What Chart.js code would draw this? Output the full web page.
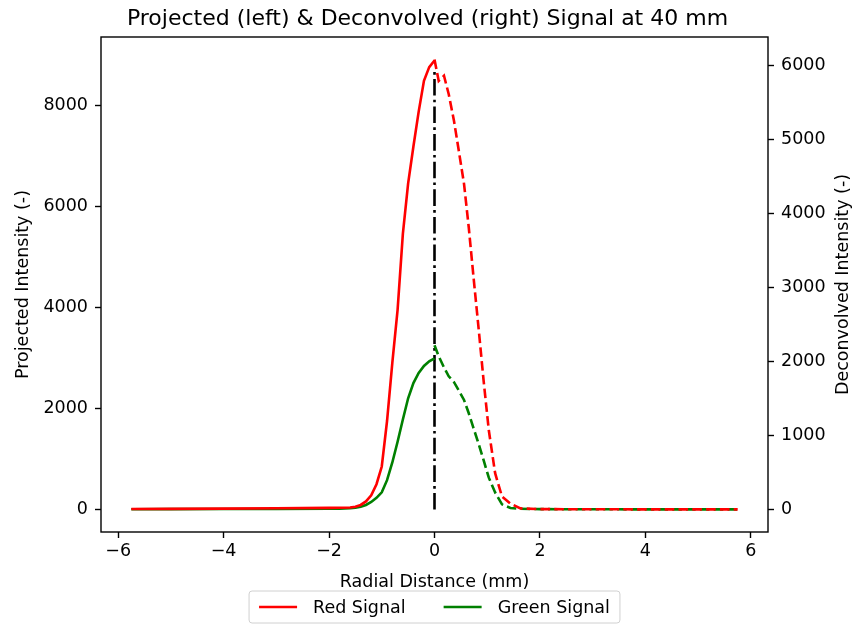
<!DOCTYPE html>
<html>
<head>
<meta charset="utf-8">
<title>Projected &amp; Deconvolved Signal</title>
<script src="https://cdn.jsdelivr.net/npm/chart.js@4.4.0/dist/chart.umd.min.js"></script>
<style>
  html, body { margin: 0; padding: 0; background: #fff; }
  #wrap { width: 855px; height: 625px; }
</style>
</head>
<body>
<div id="wrap"><canvas id="signalChart" width="855" height="625"></canvas></div>
<script>
// Radial positions (mm) for the projected half (left of centre)
const leftX = [-5.75, -5.0, -4.0, -3.0, -2.0, -1.8, -1.6, -1.5, -1.4, -1.3, -1.2, -1.1,
  -1.0, -0.9, -0.8, -0.7, -0.6, -0.5, -0.4, -0.3, -0.2, -0.1, 0.0];
// Projected intensity, left axis
const redProjected = [10, 12, 18, 25, 32, 35, 40, 55, 90, 160, 280, 500,
  850, 1750, 2900, 3950, 5450, 6450, 7180, 7870, 8480, 8750, 8880];
const greenProjected = [5, 7, 9, 11, 15, 18, 24, 35, 55, 90, 150, 230,
  340, 580, 930, 1340, 1780, 2200, 2500, 2700, 2840, 2930, 2990];

// Radial positions (mm) for the deconvolved half (right of centre)
const rightX = [0.0, 0.08, 0.18, 0.27, 0.37, 0.46, 0.56, 0.65, 0.74, 0.84, 0.93,
  1.03, 1.15, 1.28, 1.44, 1.63, 2.0, 3.0, 4.0, 5.0, 5.75];
// Deconvolved intensity, right axis
const redDeconvolved = [6080, 5790, 5860, 5610, 5250, 4850, 4400, 3810, 3140, 2420, 1750,
  1070, 490, 175, 80, 15, 5, 3, 2, 2, 2];
const greenDeconvolved = [2220, 2070, 1920, 1800, 1720, 1610, 1480, 1300, 1100, 880, 670,
  430, 230, 70, 20, 10, 5, 3, 2, 2, 2];

// Centre line (x = 0)
const centerX = [0, 0];
const centerY = [0, 8700];

// Tick labels
const xTicks = [-6, -4, -2, 0, 2, 4, 6];
const leftTicks = [0, 2000, 4000, 6000, 8000];
const rightTicks = [0, 1000, 2000, 3000, 4000, 5000, 6000];

const legendLabels = ["Red Signal", "Green Signal"];
const legendColors = ["#ff0000", "#008000"];
const rightAxisTitle = "Deconvolved Intensity (-)";

const FONT = "'DejaVu Sans', 'Liberation Sans', sans-serif";
const LW = 2.6;

function toPoints(xs, ys) {
  return xs.map((x, i) => ({ x: x, y: ys[i] }));
}

function fmt(v) {
  return String(v).replace("-", "\u2212");
}

function fixedTicks(values) {
  return (scale) => {
    scale.ticks = values.map((v) => ({ value: v }));
  };
}

// frame, right axis title (reads upward like matplotlib) and legend
const frameAndLegend = {
  id: "frameAndLegend",
  afterDraw(chart) {
    const ctx = chart.ctx;
    const a = chart.chartArea;
    ctx.save();
    ctx.strokeStyle = "#000";
    ctx.lineWidth = 1.4;
    ctx.strokeRect(a.left, a.top, a.right - a.left, a.bottom - a.top);

    ctx.font = "17.5px " + FONT;
    ctx.fillStyle = "#000";
    ctx.save();
    ctx.translate(843, (a.top + a.bottom) / 2);
    ctx.rotate(-Math.PI / 2);
    ctx.textAlign = "center";
    ctx.textBaseline = "middle";
    ctx.fillText(rightAxisTitle, 0, 0);
    ctx.restore();

    const handle = 38, textPad = 16, colGap = 38, pad = 10;
    const widths = legendLabels.map((t) => ctx.measureText(t).width);
    let total = pad * 2;
    widths.forEach((w, i) => {
      total += handle + textPad + w + (i > 0 ? colGap : 0);
    });
    const boxLeft = 434.5 - total / 2;
    const boxTop = 591, boxH = 32;
    ctx.beginPath();
    ctx.roundRect(boxLeft, boxTop, total, boxH, 3);
    ctx.fillStyle = "rgba(255,255,255,0.8)";
    ctx.fill();
    ctx.strokeStyle = "#d0d0d0";
    ctx.lineWidth = 1;
    ctx.stroke();

    const cy = boxTop + boxH / 2;
    let x = boxLeft + pad;
    ctx.textBaseline = "middle";
    ctx.textAlign = "left";
    legendLabels.forEach((label, i) => {
      if (i > 0) x += colGap;
      ctx.beginPath();
      ctx.moveTo(x, cy);
      ctx.lineTo(x + handle, cy);
      ctx.strokeStyle = legendColors[i];
      ctx.lineWidth = LW;
      ctx.stroke();
      x += handle + textPad;
      ctx.fillStyle = "#000";
      ctx.fillText(label, x, cy + 1);
      x += widths[i];
    });
    ctx.restore();
  },
};

const tickFont = { family: FONT, size: 17.5 };
const axisTitleFont = { family: FONT, size: 17.5 };
const tickGrid = {
  drawOnChartArea: false,
  drawTicks: true,
  tickLength: 6,
  tickWidth: 1.4,
  tickColor: "#000",
};

const ctx = document.getElementById("signalChart").getContext("2d");
new Chart(ctx, {
  type: "line",
  data: {
    datasets: [
      {
        label: "Red Signal",
        data: toPoints(leftX, redProjected),
        borderColor: "#ff0000",
        borderWidth: LW,
        yAxisID: "y",
      },
      {
        label: "Green Signal",
        data: toPoints(leftX, greenProjected),
        borderColor: "#008000",
        borderWidth: LW,
        yAxisID: "y",
      },
      {
        label: "Red Deconvolved",
        data: toPoints(rightX, redDeconvolved),
        borderColor: "#ff0000",
        borderWidth: LW,
        borderDash: [9.6, 4.2],
        yAxisID: "y1",
      },
      {
        label: "Green Deconvolved",
        data: toPoints(rightX, greenDeconvolved),
        borderColor: "#008000",
        borderWidth: LW,
        borderDash: [9.6, 4.2],
        yAxisID: "y1",
      },
      {
        label: "Centre",
        data: toPoints(centerX, centerY),
        borderColor: "#000000",
        borderWidth: LW,
        borderDash: [16.6, 4.2, 2.6, 4.2],
        yAxisID: "y",
      },
    ],
  },
  options: {
    responsive: false,
    animation: false,
    devicePixelRatio: 1,
    parsing: false,
    elements: {
      point: { radius: 0 },
      line: { tension: 0, fill: false },
    },
    layout: { padding: { left: 0, right: 0, top: 0, bottom: 28 } },
    scales: {
      x: {
        type: "linear",
        min: -6.325,
        max: 6.325,
        afterBuildTicks: fixedTicks(xTicks),
        afterFit: (scale) => { scale.height = 65; },
        ticks: {
          autoSkip: false,
          maxRotation: 0,
          padding: 2.5,
          color: "#000",
          font: tickFont,
          callback: (v) => fmt(v),
        },
        grid: tickGrid,
        border: { display: false },
        title: {
          display: true,
          text: "Radial Distance (mm)",
          color: "#000",
          font: axisTitleFont,
          padding: { top: 0, bottom: 4.5 },
        },
      },
      y: {
        type: "linear",
        position: "left",
        min: -445,
        max: 9345,
        afterBuildTicks: fixedTicks(leftTicks),
        afterFit: (scale) => { scale.width = 101; },
        ticks: {
          autoSkip: false,
          padding: 7,
          color: "#000",
          font: tickFont,
          callback: (v) => fmt(v),
        },
        grid: tickGrid,
        border: { display: false },
        title: {
          display: true,
          text: "Projected Intensity (-)",
          color: "#000",
          font: axisTitleFont,
          padding: { top: 13, bottom: 0 },
        },
      },
      y1: {
        type: "linear",
        position: "right",
        min: -304,
        max: 6384,
        afterBuildTicks: fixedTicks(rightTicks),
        afterFit: (scale) => { scale.width = 87; },
        ticks: {
          autoSkip: false,
          padding: 7,
          color: "#000",
          font: tickFont,
          callback: (v) => fmt(v),
        },
        grid: tickGrid,
        border: { display: false },
        title: { display: false },
      },
    },
    plugins: {
      legend: { display: false },
      tooltip: { enabled: false },
      title: {
        display: true,
        text: "Projected (left) & Deconvolved (right) Signal at 40 mm",
        color: "#000",
        font: { family: FONT, size: 22, weight: "normal" },
        padding: { top: 6.3, bottom: 4.3 },
      },
    },
  },
  plugins: [frameAndLegend],
});
</script>
</body>
</html>
